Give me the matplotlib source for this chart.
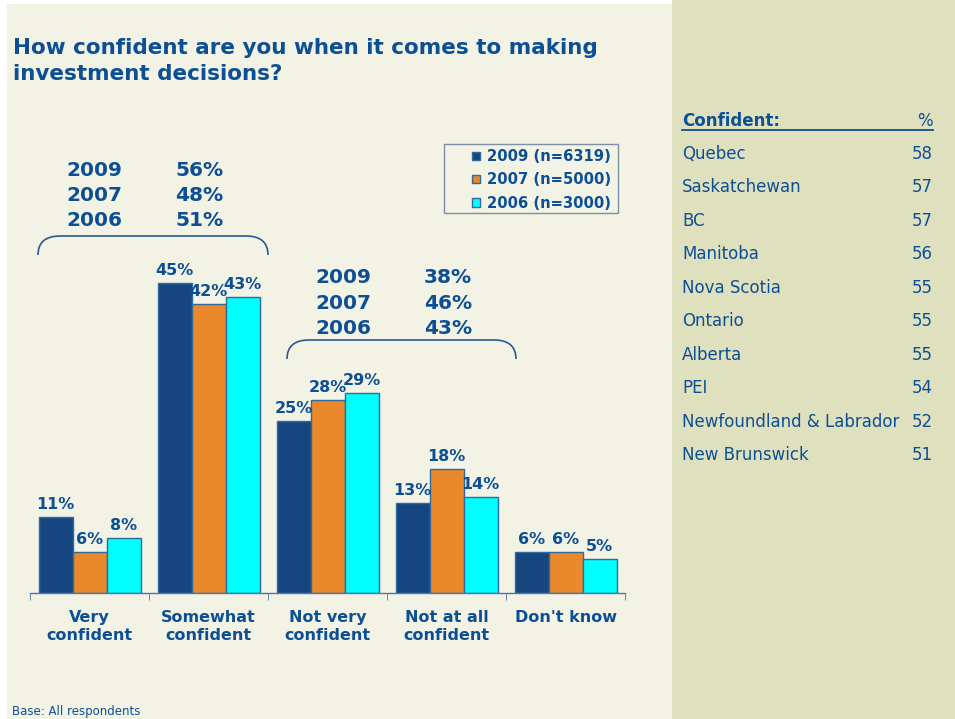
import matplotlib
matplotlib.use("Agg")
import matplotlib.pyplot as plt
from matplotlib.path import Path
from matplotlib.patches import PathPatch, Rectangle
import numpy as np

# ---------------- data ----------------
categories = ["Very\nconfident", "Somewhat\nconfident", "Not very\nconfident",
              "Not at all\nconfident", "Don't know"]
series_names = ["2009 (n=6319)", "2007 (n=5000)", "2006 (n=3000)"]
vals_2009 = [11, 45, 25, 13, 6]
vals_2007 = [6, 42, 28, 18, 6]
vals_2006 = [8, 43, 29, 14, 5]

summary_years = ["2009", "2007", "2006"]
confident_totals = ["56%", "48%", "51%"]
not_confident_totals = ["38%", "46%", "43%"]

provinces = ["Quebec", "Saskatchewan", "BC", "Manitoba", "Nova Scotia", "Ontario",
             "Alberta", "PEI", "Newfoundland & Labrador", "New Brunswick"]
province_pct = [58, 57, 57, 56, 55, 55, 55, 54, 52, 51]

title_lines = ["How confident are you when it comes to making", "investment decisions?"]

# ---------------- style ----------------
W, H = 955, 719
TXT = "#0D4F94"
BG_LEFT = "#F2F2E5"
BG_RIGHT = "#DFE0BE"
colors = ["#15467F", "#EA892C", "#00FFFF"]
EDGE = "#2E6A9E"

fig = plt.figure(figsize=(W / 100, H / 100), dpi=100)
fig.patch.set_facecolor("white")

def fx(x):
    return x / W

def fy(y):
    return 1 - y / H

# panels
fig.patches.append(Rectangle((fx(7), 0), fx(672 - 7), fy(4), transform=fig.transFigure,
                             facecolor=BG_LEFT, edgecolor="none", zorder=-10))
fig.patches.append(Rectangle((fx(672), 0), fx(W - 672), 1, transform=fig.transFigure,
                             facecolor=BG_RIGHT, edgecolor="none", zorder=-10))

# title
for k, line in enumerate(title_lines):
    fig.text(fx(13), fy(46 + k * 26), line, color=TXT, fontsize=15.5, fontweight="bold",
             ha="left", va="center_baseline")

# ---------------- axes ----------------
ax_left, ax_right, ax_bottom, ax_top = 30, 625, 593, 100
ax = fig.add_axes([fx(ax_left), fy(ax_bottom), fx(ax_right - ax_left), (ax_bottom - ax_top) / H])
ax.set_facecolor("none")
px_per_pct = 310 / 45.0
ax.set_ylim(0, (ax_bottom - ax_top) / px_per_pct)
ax.set_xlim(-0.5, len(categories) - 0.5)

x = np.arange(len(categories))
bw = 34 / 119.0
all_vals = [vals_2009, vals_2007, vals_2006]
handles = []
for i, (vals, c) in enumerate(zip(all_vals, colors)):
    b = ax.bar(x + (i - 1) * bw, vals, width=bw, color=c, edgecolor=EDGE, linewidth=1.0,
               label=series_names[i])
    handles.append(b)
    for xi, v in zip(x + (i - 1) * bw, vals):
        ax.annotate(f"{v}%", (xi, v), xytext=(0, 5), textcoords="offset pixels",
                    ha="center", va="bottom", color=TXT, fontsize=11.5,
                    fontweight="bold")

for s in ["top", "right", "left"]:
    ax.spines[s].set_visible(False)
ax.spines["bottom"].set_color("#4A78A8")
ax.spines["bottom"].set_linewidth(1.0)
ax.set_yticks([])
ax.set_xticks(x)
ax.set_xticklabels(categories, color=TXT, fontsize=11.5, fontweight="bold", linespacing=1.3)
ax.tick_params(axis="x", which="major", length=0, pad=12)
ax.set_xticks(np.arange(-0.5, len(categories), 1.0), minor=True)
ax.tick_params(axis="x", which="minor", length=5, color="#4A78A8", direction="out")

# legend frame (drawn separately to match the wide left padding)
fig.patches.append(Rectangle((fx(444), fy(213)), fx(618 - 444), (213 - 144) / H,
                             transform=fig.transFigure, facecolor=BG_LEFT,
                             edgecolor="#7F8FA6", linewidth=1.0, zorder=-5))
leg = ax.legend(handles=handles, loc="center right",
                bbox_to_anchor=(fx(611), fy(180)), bbox_transform=fig.transFigure,
                frameon=False,
                handlelength=0.5, handleheight=0.5, handletextpad=0.5,
                borderpad=0.0, labelspacing=0.55, borderaxespad=0,
                prop={"weight": "bold", "size": 10.6})
for t in leg.get_texts():
    t.set_color(TXT)

# ---------------- summary blocks with brackets ----------------
def summary(x_year, x_pct, y0, dy, pcts):
    for k, (yr, p) in enumerate(zip(summary_years, pcts)):
        fig.text(fx(x_year), fy(y0 + k * dy), yr, color=TXT, fontsize=14.5,
                 fontweight="bold", ha="left", va="center")
        fig.text(fx(x_pct), fy(y0 + k * dy), p, color=TXT, fontsize=14.5,
                 fontweight="bold", ha="left", va="center")

def bracket(x0, x1, ytop, ybot, r=22):
    verts = [(x0, ybot), (x0, ytop), (x0 + r, ytop),
             (x1 - r, ytop),
             (x1, ytop), (x1, ybot)]
    codes = [Path.MOVETO, Path.CURVE3, Path.CURVE3, Path.LINETO, Path.CURVE3, Path.CURVE3]
    verts = [(fx(a), fy(b)) for a, b in verts]
    fig.patches.append(PathPatch(Path(verts, codes), transform=fig.transFigure,
                                 facecolor="none", edgecolor="#2D5A8E", linewidth=1.2))

summary(66, 175, 170, 25.5, confident_totals)
bracket(38, 268, 236, 255)
summary(315, 424, 278, 25.5, not_confident_totals)
bracket(287, 516, 340, 359)

# footnote
fig.text(fx(12), fy(711), "Base: All respondents", color=TXT, fontsize=8.5,
         ha="left", va="center")

# ---------------- right panel table ----------------
fig.text(fx(682), fy(121), "Confident:", color=TXT, fontsize=12, fontweight="bold",
         ha="left", va="center")
fig.text(fx(933), fy(121), "%", color=TXT, fontsize=12, ha="right", va="center")
fig.add_artist(plt.Line2D([fx(682), fx(933)], [fy(130), fy(130)], color=TXT, linewidth=1.3,
                          transform=fig.transFigure))
row_dy = (455 - 154) / 9.0
for k, (p, v) in enumerate(zip(provinces, province_pct)):
    yy = 154 + k * row_dy
    fig.text(fx(682), fy(yy), p, color=TXT, fontsize=12, ha="left", va="center")
    fig.text(fx(933), fy(yy), str(v), color=TXT, fontsize=12, ha="right", va="center")

fig.savefig("out.png", dpi=100, facecolor=fig.get_facecolor())
